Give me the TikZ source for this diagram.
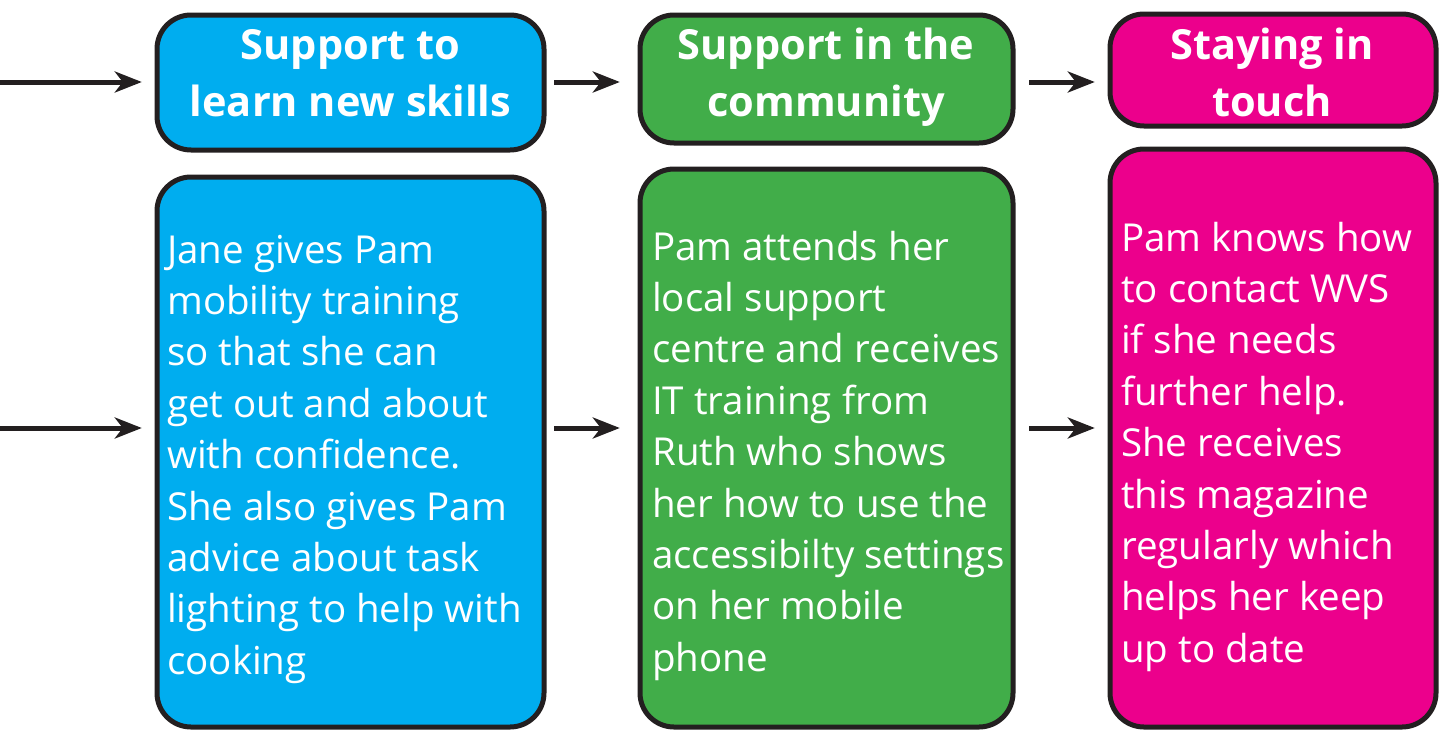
\documentclass[tikz,border=0pt]{standalone}
\usepackage{fontspec}
\setmainfont{Open Sans}
\usetikzlibrary{arrows.meta}
\definecolor{cblue}{HTML}{00ADEF}
\definecolor{cgreen}{HTML}{41AD49}
\definecolor{cpink}{HTML}{EC008C}
\definecolor{cline}{HTML}{231F20}
\tikzset{
  box/.style={draw=cline, line width=5pt, rounded corners=34pt},
  arr/.style={draw=cline, line width=5pt, -{Stealth[length=27pt, width=21pt, inset=8pt]}},
  head/.style={inner sep=0pt, text=white, anchor=base,
    font=\fontsize{41.5}{57}\selectfont\bfseries},
  body/.style={inner sep=0pt, text=white, anchor=base west,
    font=\fontsize{38.5}{51.4}\selectfont},
}
\begin{document}
\begin{tikzpicture}[x=1pt,y=-1pt]
\useasboundingbox (0,0) rectangle (1440,731);
% boxes
\draw[box, fill=cblue] (157,15) rectangle (544,150);
\node[inner sep=0, minimum width=387pt, minimum height=135pt] (h1) at (350.5,82.5) {};
\draw[box, fill=cgreen] (640,15) rectangle (1013,143);
\node[inner sep=0, minimum width=373pt, minimum height=128pt] (h2) at (826.5,79) {};
\draw[box, fill=cpink] (1110,14) rectangle (1436,126);
\node[inner sep=0, minimum width=326pt, minimum height=112pt] (h3) at (1273,70) {};
\draw[box, fill=cblue] (157,177) rectangle (544,727);
\node[inner sep=0, minimum width=387pt, minimum height=550pt] (b1) at (350.5,452) {};
\draw[box, fill=cgreen] (640,169) rectangle (1013,727);
\node[inner sep=0, minimum width=373pt, minimum height=558pt] (b2) at (826.5,448) {};
\draw[box, fill=cpink] (1110,149) rectangle (1436,727);
\node[inner sep=0, minimum width=326pt, minimum height=578pt] (b3) at (1273,438) {};
% arrow rows
\coordinate (rowtop) at (0,82);
\coordinate (rowbot) at (0,428);
\draw[arr] (rowtop) -- ([xshift=-15pt]h1.west |- rowtop);
\draw[arr] ([xshift=10pt]h1.east |- rowtop) -- ([xshift=-20pt]h2.west |- rowtop);
\draw[arr] ([xshift=16pt]h2.east |- rowtop) -- ([xshift=-15pt]h3.west |- rowtop);
\draw[arr] (rowbot) -- ([xshift=-15pt]b1.west |- rowbot);
\draw[arr] ([xshift=10pt]b1.east |- rowbot) -- ([xshift=-20pt]b2.west |- rowbot);
\draw[arr] ([xshift=16pt]b2.east |- rowbot) -- ([xshift=-15pt]b3.west |- rowbot);
% header texts
\node[head] (t1) at (350.5,59) {\begin{tabular}[t]{@{}c@{}}Support to\\learn new skills\end{tabular}};
\node[head] (t2) at (826,59) {\begin{tabular}[t]{@{}c@{}}Support in the\\community\end{tabular}};
\node[head] (t3) at (1272,59) {\begin{tabular}[t]{@{}c@{}}Staying in\\touch\end{tabular}};
% body texts
\node[body] (x1) at (167,263) {\begin{tabular}[t]{@{}l@{}}Jane gives Pam\\mobility training\\so that she can\\get out and about\\with confidence.\\She also gives Pam\\advice about task\\lighting to help with\\cooking\end{tabular}};
\node[body] (x2) at (652,260) {\begin{tabular}[t]{@{}l@{}}Pam attends her\\local support\\centre and receives\\IT training from\\Ruth who shows\\her how to use the\\accessibilty settings\\on her mobile\\phone\end{tabular}};
\node[body] (x3) at (1121,251) {\begin{tabular}[t]{@{}l@{}}Pam knows how\\to contact WVS\\if she needs\\further help.\\She receives\\this magazine\\regularly which\\helps her keep\\up to date\end{tabular}};
\end{tikzpicture}
\end{document}
